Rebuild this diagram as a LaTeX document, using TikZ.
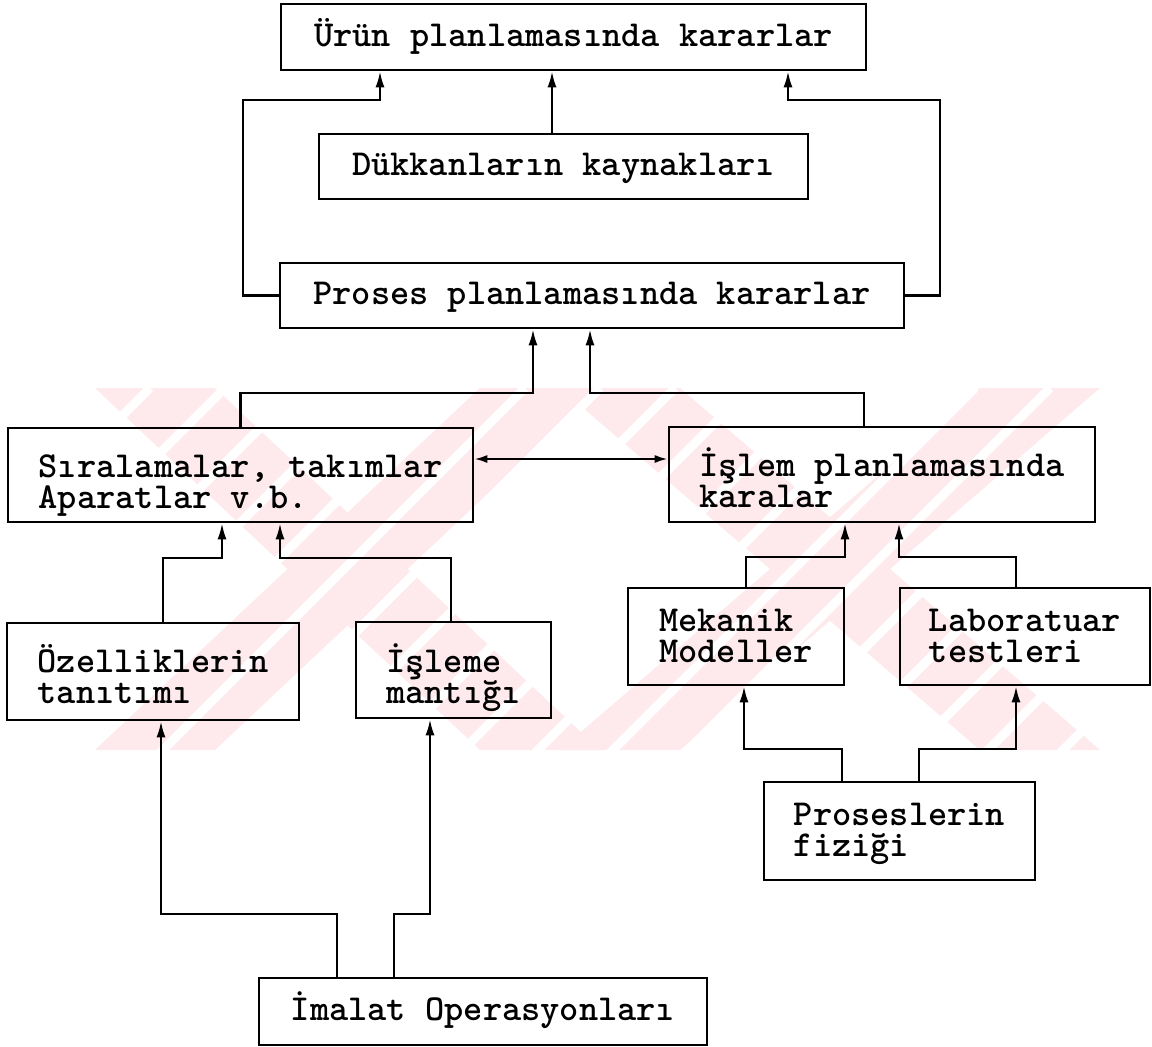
\documentclass[tikz,border=0pt]{standalone}
\usetikzlibrary{arrows.meta}

\definecolor{wmpink}{RGB}{254,234,237}

% one text line, baseline placed 9pt below the box centre
\newcommand{\oneln}[1]{\raisebox{0pt}[18pt][0pt]{#1}}
% two left-aligned lines; #1 fixes where the block sits in the box
\newcommand{\twoln}[3]{\raisebox{0pt}[#1pt][0pt]{\vbox{\baselineskip=31pt\lineskiplimit=-\maxdimen\hbox{#2}\hbox{#3}}}}

\tikzset{
  box/.style={draw, line width=2.6pt, inner sep=0pt, fill=none,
              font=\fontsize{36.6pt}{31pt}\selectfont\ttfamily\bfseries},
  arr/.style={line width=2.2pt, -{Latex[length=16pt,width=9pt]}},
  arrboth/.style={line width=2.2pt, {Latex[length=13pt,width=8pt]}-{Latex[length=13pt,width=8pt]}},
}

\begin{document}
\begin{tikzpicture}[x=1pt,y=-1pt]
\useasboundingbox[fill=white] (0,0) rectangle (1152,1047);

% faint background mark: two hatched crosses
\begin{scope}
  \clip (0,388) rectangle (1152,750);
  \fill[wmpink] (95,388) -- (215,388) -- (600,750) -- (480,750) -- cycle;
  \fill[wmpink] (480,388) -- (600,388) -- (215,750) -- (95,750) -- cycle;
  \fill[wmpink] (560,388) -- (680,388) -- (1100,750) -- (980,750) -- cycle;
  \fill[wmpink] (980,388) -- (1100,388) -- (680,750) -- (560,750) -- cycle;
  \foreach \s in {0,75,...,1500}
    \draw[white, line width=9pt] (\s,388) -- ++(-400,400);
\end{scope}

% boxes
\node[box, minimum width=585pt, minimum height=66pt] (urun)   at (573.5,37)   {\oneln{Ürün planlamasında kararlar}};
\node[box, minimum width=489pt, minimum height=65pt] (dukkan) at (563.5,166.5) {\oneln{Dükkanların kaynakları}};
\node[box, minimum width=624pt, minimum height=65pt] (proses) at (592,295.5)  {\oneln{Proses planlamasında kararlar}};
\node[box, minimum width=465pt, minimum height=94pt] (sira)   at (240.5,475)  {\twoln{66}{Sıralamalar, takımlar}{Aparatlar v.b.}};
\node[box, minimum width=426pt, minimum height=95pt] (islem)  at (882,474.5)  {\twoln{65}{İşlem planlamasında}{karalar}};
\node[box, minimum width=292pt, minimum height=97pt] (ozel)   at (153,671.5)  {\twoln{63}{Özelliklerin}{tanıtımı}};
\node[box, minimum width=195pt, minimum height=96pt] (isleme) at (453.5,670)  {\twoln{66}{İşleme}{mantığı}};
\node[box, minimum width=216pt, minimum height=97pt] (mek)    at (736,636.5)  {\twoln{51}{Mekanik}{Modeller}};
\node[box, minimum width=250pt, minimum height=97pt] (lab)    at (1025,636.5) {\twoln{51}{Laboratuar}{testleri}};
\node[box, minimum width=271pt, minimum height=98pt] (fizik)  at (899.5,831)  {\twoln{50}{Proseslerin}{fiziği}};
\node[box, minimum width=448pt, minimum height=67pt] (imalat) at (483,1011.5)  {\oneln{İmalat Operasyonları}};

% connectors
\draw[arr] (proses.west) -| (243,100) -| ([xshift=-193.5pt]urun.south);
\draw[arr] (proses.east) -| (940,100) -| ([xshift=214.5pt]urun.south);
\draw[arr] ([xshift=-11.5pt]dukkan.north) -- ([xshift=-21.5pt]urun.south);

\draw[arr] (sira.north) |- (533,393) -- ([xshift=-59pt]proses.south);
\draw[arr] ([xshift=-18pt]islem.north) |- (590,393) -- ([xshift=-2pt]proses.south);

\coordinate (dbl) at ([yshift=16pt]sira.east);
\draw[arrboth] (dbl) -- (dbl -| islem.west);

\draw[arr] ([xshift=10pt]ozel.north) |- (222,558) -- ([xshift=-18.5pt]sira.south);
\draw[arr] ([xshift=-2.5pt]isleme.north) |- (280,558) -- ([xshift=39.5pt]sira.south);

\draw[arr] ([xshift=10pt]mek.north) |- (845,557) -- ([xshift=-37pt]islem.south);
\draw[arr] ([xshift=-9pt]lab.north) |- (899,557) -- ([xshift=17pt]islem.south);

\draw[arr] ([xshift=-57.5pt]fizik.north) |- (744,749) -- ([xshift=8pt]mek.south);
\draw[arr] ([xshift=19.5pt]fizik.north) |- (1016,749) -- ([xshift=-9pt]lab.south);

\draw[arr] ([xshift=-146pt]imalat.north) |- (161,914) -- ([xshift=8pt]ozel.south);
\draw[arr] ([xshift=-89pt]imalat.north) |- (430,914) -- ([xshift=-23.5pt]isleme.south);
\end{tikzpicture}
\end{document}
